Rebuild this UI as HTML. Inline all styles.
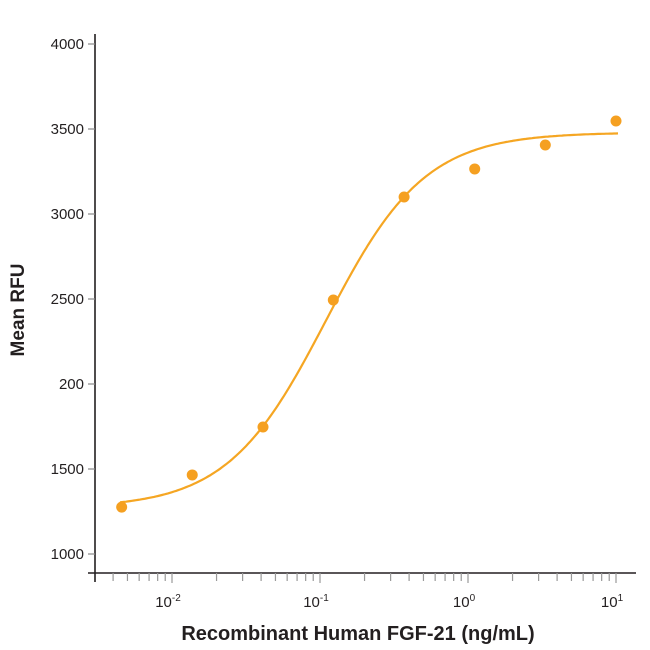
<!DOCTYPE html>
<html><head><meta charset="utf-8"><style>
html,body{margin:0;padding:0;background:#fff;}
svg{display:block;font-family:"Liberation Sans Narrow","Liberation Sans",sans-serif;}
</style></head><body>
<svg id="chart" width="650" height="650" viewBox="0 0 650 650" xmlns="http://www.w3.org/2000/svg">
<g id="axes"></g>
<path id="fit" fill="none" stroke="#f5a623" stroke-width="2.2"/>
<g id="pts"></g>
<text transform="translate(24,310) rotate(-90)" text-anchor="middle" font-size="19" font-weight="bold" fill="#231f20">Mean RFU</text>
<text x="358" y="640" text-anchor="middle" font-size="20" font-weight="bold" fill="#231f20">Recombinant Human FGF-21 (ng/mL)</text>
</svg>
<script>
const concentrations=[0.00457,0.0137,0.0412,0.123,0.37,1.11,3.33,10];
const rfuValues=[1276,1465,1747,2494,3100,3265,3406,3547];
const yTickValues=[1000,1500,2000,2500,3000,3500,4000];
const yTickLabels=["1000","1500","200","2500","3000","3500","4000"];
const xDecades=[-2,-1,0,1];
const fitParams=[1270,3480,0.11,1.3];
const NS="http://www.w3.org/2000/svg";
const X0=172,DEC=148,Y0=554,PER=85/500;
const xs=v=>X0+(Math.log10(v)+2)*DEC;
const ys=v=>Y0-(v-1000)*PER;
function mk(t,a,p){const e=document.createElementNS(NS,t);for(const k in a)e.setAttribute(k,a[k]);p.appendChild(e);return e;}
const ax=document.getElementById('axes');
let l=mk('line',{x1:95,y1:34,x2:95,y2:582,stroke:'#231f20','stroke-width':1.6},ax);


l=mk('line',{x1:88,y1:573,x2:636,y2:573,stroke:'#231f20','stroke-width':1.6},ax);


yTickValues.forEach((v,i)=>{const y=ys(v);
 const t=mk('line',{x1:88,y1:y,x2:95,y2:y,stroke:'#888','stroke-width':1.2},ax);
 
 
 const tx=mk('text',{x:84,y:y+5,'text-anchor':'end','font-size':15,fill:'#231f20'},ax);
 
 
 tx.textContent=yTickLabels[i];});
for(let d=-3;d<=0;d++){for(let m=1;m<=10;m++){const v=m*Math.pow(10,d);const x=xs(v);
 if(x<100||x>625)continue;if(m==10&&d<0)continue;
 const major=(m==1||m==10);
 const t=mk('line',{x1:x,y1:573,x2:x,y2:major?583:581,stroke:'#999','stroke-width':1.2},ax);
 
 }}
xDecades.forEach(d=>{const x=xs(Math.pow(10,d));
 const tx=mk('text',{x:x-4,y:607,'text-anchor':'middle','font-size':15,fill:'#231f20'},ax);
 
 
 tx.textContent='10';
 const s=mk('tspan',{dy:-6,'font-size':10},tx);s.textContent=String(d);});
const fitBottom=fitParams[0],fitTop=fitParams[1],fitEc50=fitParams[2],fitHill=fitParams[3];
let dpath='';
for(let x=120;x<=618;x+=2){const lv=(x-X0)/DEC-2;const c=Math.pow(10,lv);
 const v=fitBottom+(fitTop-fitBottom)/(1+Math.pow(fitEc50/c,fitHill));dpath+=(dpath?'L':'M')+x+','+ys(v).toFixed(1);}
document.getElementById('fit').setAttribute('d',dpath);
const pg=document.getElementById('pts');
concentrations.forEach((c,i)=>{const p=mk('circle',{cx:xs(c),cy:ys(rfuValues[i]),r:5.5,fill:'#f5a021'},pg);
 
 });
</script>
</body></html>
